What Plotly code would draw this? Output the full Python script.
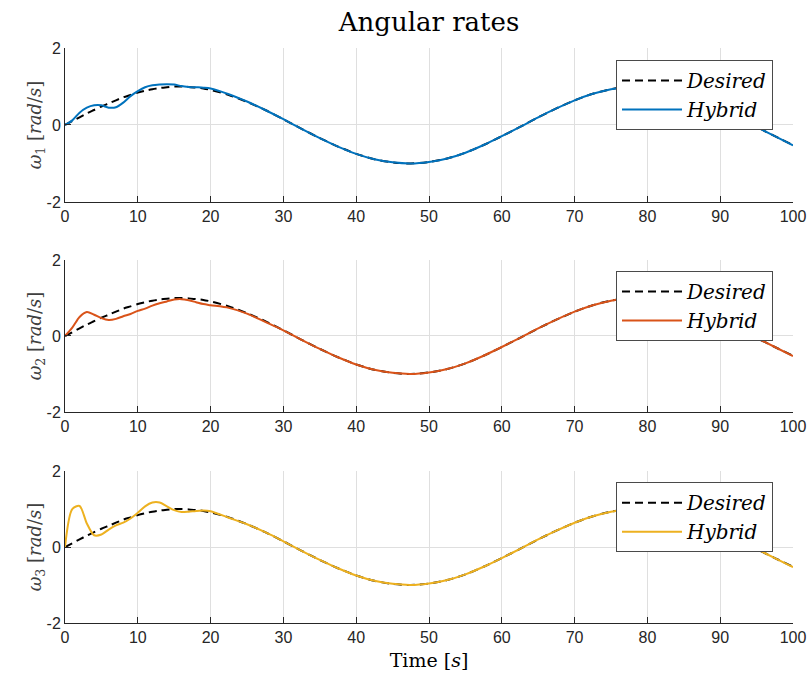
import plotly.graph_objects as go

# ---------------- data ----------------
time = [0, 1, 2, 3, 4, 5, 6, 7, 8, 9, 10, 11, 12, 13, 14, 15, 16, 17, 18, 19, 20,
        22.5, 25, 27.5, 30, 32.5, 35, 37.5, 40, 42.5, 45, 47.5, 50, 52.5, 55, 57.5,
        60, 62.5, 65, 67.5, 70, 72.5, 75, 77.5, 80, 82.5, 85, 87.5, 90, 92.5, 95,
        97.5, 100]

desired = [0.00, 0.10, 0.20, 0.30, 0.39, 0.48, 0.56, 0.64, 0.72, 0.78, 0.84, 0.89,
           0.93, 0.96, 0.98, 1.00, 1.00, 0.99, 0.97, 0.95, 0.91,
           0.78, 0.60, 0.39, 0.15, -0.10, -0.34, -0.56, -0.75, -0.89, -0.97, -1.00,
           -0.96, -0.87, -0.72, -0.52, -0.29, -0.05, 0.20, 0.43, 0.64, 0.81, 0.93,
           0.99, 0.99, 0.93, 0.81, 0.64, 0.43, 0.20, -0.05, -0.29, -0.52]

hybrid1 = [0.00, 0.12, 0.32, 0.45, 0.51, 0.51, 0.45, 0.46, 0.58, 0.75, 0.88, 0.98,
           1.03, 1.05, 1.06, 1.05, 1.01, 0.99, 0.98, 0.97, 0.95,
           0.80, 0.61, 0.39, 0.15, -0.10, -0.34, -0.56, -0.75, -0.89, -0.97, -1.00,
           -0.96, -0.87, -0.72, -0.52, -0.29, -0.05, 0.20, 0.43, 0.64, 0.81, 0.93,
           0.99, 0.99, 0.93, 0.81, 0.64, 0.43, 0.20, -0.05, -0.29, -0.53]

hybrid2 = [0.00, 0.22, 0.50, 0.63, 0.56, 0.47, 0.42, 0.45, 0.52, 0.58, 0.66, 0.72,
           0.80, 0.86, 0.91, 0.96, 0.97, 0.94, 0.89, 0.84, 0.81,
           0.74, 0.59, 0.37, 0.15, -0.10, -0.34, -0.56, -0.75, -0.89, -0.97, -1.00,
           -0.96, -0.87, -0.72, -0.52, -0.29, -0.05, 0.20, 0.43, 0.64, 0.81, 0.93,
           0.99, 0.99, 0.93, 0.81, 0.64, 0.43, 0.20, -0.05, -0.29, -0.53]

hybrid3 = [0.00, 1.00, 1.08, 0.62, 0.31, 0.33, 0.46, 0.57, 0.64, 0.75, 0.90, 1.07,
           1.17, 1.17, 1.07, 0.97, 0.92, 0.93, 0.95, 0.96, 0.94,
           0.77, 0.60, 0.39, 0.15, -0.10, -0.34, -0.56, -0.75, -0.89, -0.97, -1.00,
           -0.96, -0.87, -0.72, -0.52, -0.29, -0.05, 0.20, 0.43, 0.64, 0.81, 0.93,
           0.99, 0.99, 0.93, 0.81, 0.64, 0.43, 0.20, -0.05, -0.29, -0.53]

hybrids = [hybrid1, hybrid2, hybrid3]
colors = ["#0072BD", "#D95319", "#EDB120"]
ylabels = ["<i>ω</i><sub>1</sub> [<i>rad</i>/<i>s</i>]",
           "<i>ω</i><sub>2</sub> [<i>rad</i>/<i>s</i>]",
           "<i>ω</i><sub>3</sub> [<i>rad</i>/<i>s</i>]"]
xticks = [0, 10, 20, 30, 40, 50, 60, 70, 80, 90, 100]
yticks = [-2, 0, 2]
yticktext = ["-2", "0", "2"]

# ---------------- figure ----------------
W, H = 809, 679
ml, mr, mt, mb = 65, 16, 48, 56
ydomains = [[0.7322, 1.0], [0.3670, 0.6313], [0.0, 0.2643]]
legend_tops = [0.979, 0.612, 0.245]

SERIF = "DejaVu Serif"
SANS = "Liberation Sans, Arial, sans-serif"
AX = "#262626"
GRID = "#dfdfdf"

fig = go.Figure()
layout = dict(
    width=W, height=H,
    margin=dict(l=ml, r=mr, t=mt, b=mb, autoexpand=False),
    paper_bgcolor="white", plot_bgcolor="white",
    showlegend=True,
    title=dict(text="Angular rates", x=0.5, xref="paper",
               xanchor="center", y=1 - 22 / H, yanchor="middle",
               font=dict(family=SERIF, size=26, color="black")),
)

for i in range(3):
    n = "" if i == 0 else str(i + 1)
    xa, ya = "x" + n, "y" + n
    leg = "legend" + n
    fig.add_trace(go.Scatter(x=time, y=desired, mode="lines", name="Desired",
                             line=dict(color="black", width=2, dash="8px,5px", shape="spline", smoothing=0.8),
                             xaxis=xa, yaxis=ya, legend=leg))
    fig.add_trace(go.Scatter(x=time, y=hybrids[i], mode="lines", name="Hybrid",
                             line=dict(color=colors[i], width=2, shape="spline", smoothing=0.8),
                             xaxis=xa, yaxis=ya, legend=leg))
    layout["xaxis" + n] = dict(
        domain=[0, 1], anchor=ya, range=[0, 100], automargin=False,
        tickmode="array", tickvals=xticks, ticks="inside", ticklen=6,
        tickcolor=AX, tickwidth=1, showline=True, linecolor=AX, linewidth=1,
        showgrid=True, gridcolor=GRID, gridwidth=1, zeroline=False,
        tickfont=dict(family=SANS, size=16, color=AX),
    )
    layout["yaxis" + n] = dict(
        domain=ydomains[i], anchor=xa, range=[-2, 2], automargin=False,
        tickmode="array", tickvals=yticks, ticktext=yticktext, ticks="inside", ticklen=6,
        tickcolor=AX, tickwidth=1, showline=True, linecolor=AX, linewidth=1,
        showgrid=True, gridcolor=GRID, gridwidth=1, zeroline=False,
        tickfont=dict(family=SANS, size=16, color=AX),
        title=dict(text=ylabels[i], standoff=0,
                   font=dict(family=SERIF, size=18, color="#404040")),
    )
    layout[leg] = dict(
        x=(773 - ml) / (W - ml - mr), xanchor="right", y=legend_tops[i], yanchor="top",
        xref="paper", yref="paper",
        bgcolor="white", bordercolor="#4a4a4a", borderwidth=1,
        font=dict(family=SERIF, size=20, color="black", style="italic"),
        tracegroupgap=0, itemwidth=60,
    )

layout["xaxis3"]["title"] = dict(text="Time [<i>s</i>]", standoff=8,
                                 font=dict(family=SERIF, size=19, color="black"))

fig.update_layout(**layout)
fig.write_html("out.html")
